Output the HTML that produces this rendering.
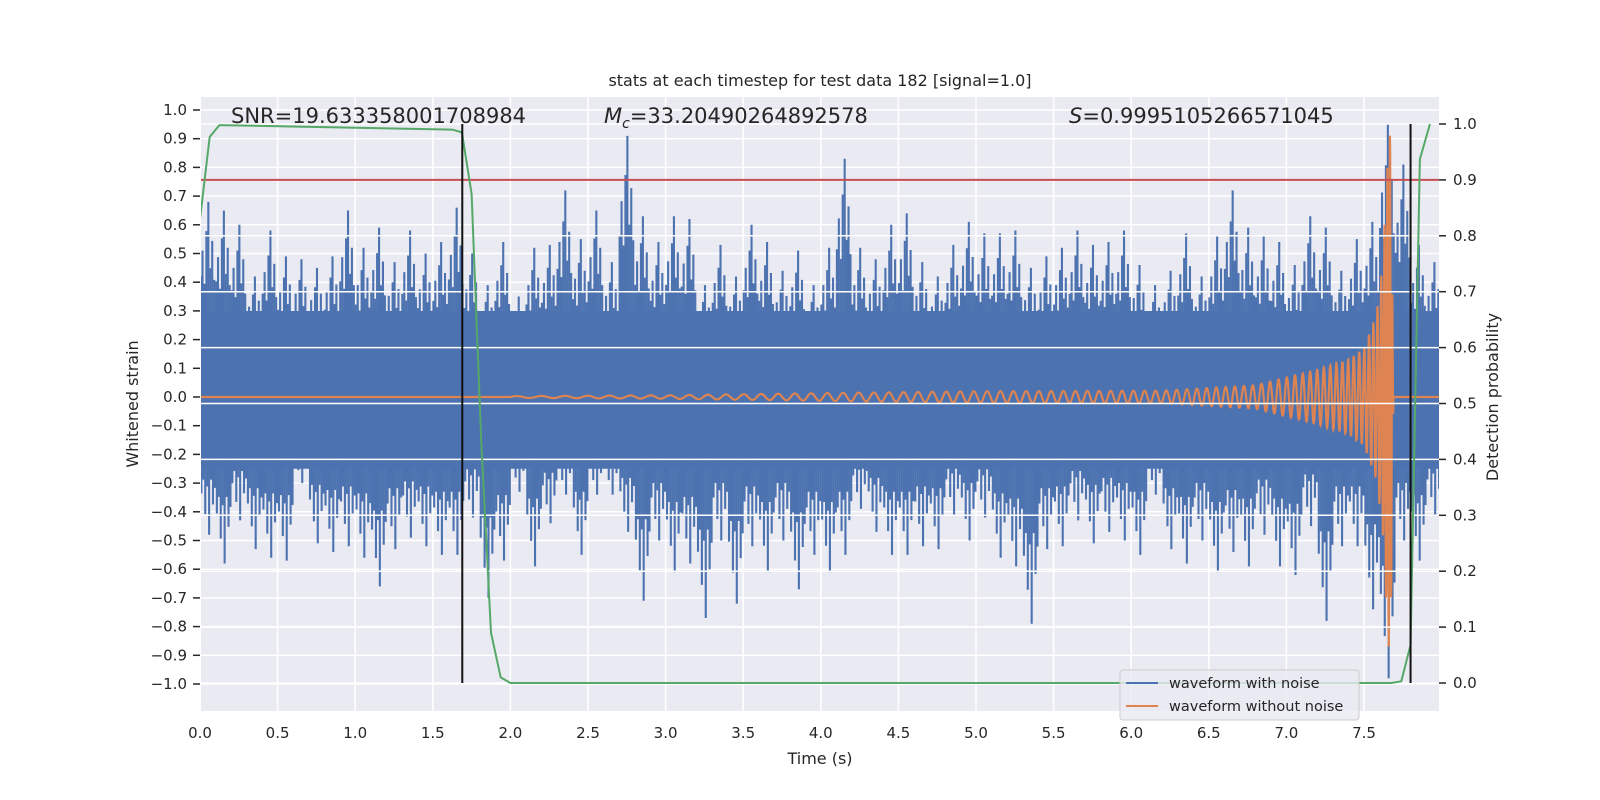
<!DOCTYPE html>
<html><head><meta charset="utf-8">
<style>
html,body{margin:0;padding:0;background:#fff;}
svg{display:block;font-family:"DejaVu Sans","Liberation Sans",sans-serif;}
</style></head>
<body>
<svg id="chart" width="1600" height="800" viewBox="0 0 1600 800" xmlns="http://www.w3.org/2000/svg">
<defs><clipPath id="clipPlot"><rect x="201" y="97" width="1238" height="614"/></clipPath></defs>
<rect x="0" y="0" width="1600" height="800" fill="#ffffff"/>
<rect x="201" y="97" width="1238" height="614" fill="#eaeaf2"/>
<g id="gridL"></g>
<g id="blue" clip-path="url(#clipPlot)"></g>
<g id="orange" clip-path="url(#clipPlot)"></g>
<g id="gridR"></g>
<g id="overlay" clip-path="url(#clipPlot)"></g>
<g id="axes"></g>
<text x="820" y="86" text-anchor="middle" font-size="16" fill="#262626">stats at each timestep for test data 182 [signal=1.0]</text>
<text x="231" y="123" font-size="21" fill="#262626">SNR=19.633358001708984</text>
<text x="604" y="123" font-size="21" fill="#262626"><tspan font-style="italic">M</tspan><tspan font-style="italic" font-size="14" dy="5">c</tspan><tspan dy="-5">=33.20490264892578</tspan></text>
<text x="1069" y="123" font-size="21" fill="#262626"><tspan font-style="italic">S</tspan>=0.9995105266571045</text>
<text x="820" y="764" text-anchor="middle" font-size="16" fill="#262626">Time (s)</text>
<text transform="translate(138,404) rotate(-90)" text-anchor="middle" font-size="16" fill="#262626">Whitened strain</text>
<text transform="translate(1498,397) rotate(-90)" text-anchor="middle" font-size="16" fill="#262626">Detection probability</text>
<g>
<rect x="1120" y="670" width="239" height="50" rx="3" fill="#eaeaf2" fill-opacity="0.8" stroke="#cccccc" stroke-width="1"/>
<line x1="1126" y1="683" x2="1158" y2="683" stroke="#4c72b0" stroke-width="2"/>
<text x="1169" y="688" font-size="14.5" fill="#262626">waveform with noise</text>
<line x1="1126" y1="706" x2="1158" y2="706" stroke="#dd8452" stroke-width="2"/>
<text x="1169" y="711" font-size="14.5" fill="#262626">waveform without noise</text>
</g>
</svg>
<script>
// ---- data ----
const binWidth = 0.1;
const noiseMax = [0.68,0.65,0.6,0.42,0.58,0.49,0.48,0.45,0.49,0.65,0.52,0.59,0.47,0.58,0.5,0.54,0.66,0.5,0.39,0.54,
 0.35,0.52,0.53,0.72,0.55,0.65,0.47,0.91,0.63,0.54,0.63,0.62,0.39,0.53,0.42,0.6,0.54,0.44,0.51,0.39,
 0.52,0.83,0.52,0.48,0.6,0.64,0.47,0.42,0.53,0.61,0.57,0.57,0.58,0.45,0.49,0.52,0.58,0.53,0.54,0.58,
 0.46,0.39,0.44,0.57,0.42,0.56,0.72,0.59,0.56,0.54,0.46,0.63,0.59,0.44,0.55,0.61,0.95,0.81,0.53,0.47];
const noiseMin = [-0.48,-0.58,-0.43,-0.53,-0.56,-0.57,-0.3,-0.51,-0.54,-0.52,-0.56,-0.66,-0.53,-0.49,-0.52,-0.55,-0.55,-0.42,-0.7,-0.57,
 -0.33,-0.59,-0.44,-0.34,-0.55,-0.34,-0.34,-0.47,-0.71,-0.5,-0.61,-0.58,-0.77,-0.5,-0.72,-0.52,-0.61,-0.5,-0.67,-0.55,
 -0.61,-0.55,-0.39,-0.47,-0.55,-0.55,-0.52,-0.53,-0.41,-0.5,-0.42,-0.56,-0.59,-0.79,-0.53,-0.52,-0.43,-0.51,-0.47,-0.5,
 -0.55,-0.34,-0.53,-0.58,-0.5,-0.61,-0.54,-0.59,-0.48,-0.59,-0.62,-0.45,-0.78,-0.52,-0.52,-0.74,-0.98,-0.5,-0.57,-0.41];
const freqT = [2.0,3.0,4.2,5.0,6.1,7.04,7.47,7.6,7.66,7.69];
const freqHz = [6,8,10,11.5,14,19,29,40,60,70];
const ampT = [2.0,3.0,4.2,5.0,6.2,6.8,7.2,7.4,7.5,7.58,7.62,7.65,7.67,7.69];
const ampV = [0.003,0.006,0.015,0.02,0.022,0.041,0.095,0.13,0.17,0.29,0.46,0.8,0.95,0.0];
const probT = [0,0.0625,0.125,1.625,1.6875,1.75,1.8125,1.875,1.9375,2.0,7.675,7.74,7.80,7.86,7.925];
const probV = [0.83,0.977,0.998,0.99,0.985,0.875,0.43,0.09,0.01,0.0,0.0,0.003,0.068,0.937,1.0];
const threshold = 0.9;
const markerTimes = [1.69,7.80];
const xTicks = ["0.0","0.5","1.0","1.5","2.0","2.5","3.0","3.5","4.0","4.5","5.0","5.5","6.0","6.5","7.0","7.5"];
const yTicksL = ["1.0","0.9","0.8","0.7","0.6","0.5","0.4","0.3","0.2","0.1","0.0","\u22120.1","\u22120.2","\u22120.3","\u22120.4","\u22120.5","\u22120.6","\u22120.7","\u22120.8","\u22120.9","\u22121.0"];
const yTicksR = ["1.0","0.9","0.8","0.7","0.6","0.5","0.4","0.3","0.2","0.1","0.0"];

// ---- scales ----
const X = t => 200 + t * 155.2;
const YL = v => 397 - v * 287;
const YR = p => 683 - p * 559;
const NS = "http://www.w3.org/2000/svg";
function mk(tag, attrs, parent){ const e=document.createElementNS(NS,tag); for(const k in attrs) e.setAttribute(k,attrs[k]); parent.appendChild(e); return e; }
const num = s => parseFloat(s.replace("\u2212","-"));
function interp(xs, ys, x){ if(x<=xs[0]) return ys[0]; for(let i=1;i<xs.length;i++){ if(x<=xs[i]){ const f=(x-xs[i-1])/(xs[i]-xs[i-1]); return ys[i-1]+f*(ys[i]-ys[i-1]); } } return ys[ys.length-1]; }

const gridL = document.getElementById('gridL');
const gridR = document.getElementById('gridR');
const axes = document.getElementById('axes');
const blue = document.getElementById('blue');
const orange = document.getElementById('orange');
const overlay = document.getElementById('overlay');

yTicksL.forEach(lbl => {
  const y = YL(num(lbl));
  const g = mk('line',{x1:201,x2:1439,y1:y,y2:y,stroke:'#ffffff','stroke-width':1.5},gridL);
  
  
  const tk = mk('line',{x1:193,x2:200,y1:y,y2:y,stroke:'#262626','stroke-width':1.5},axes);
  
  
  const tx = mk('text',{x:187,y:y+5,'text-anchor':'end','font-size':15,fill:'#262626'},axes);
  tx.textContent = lbl;
  
  
});
xTicks.forEach(lbl => {
  const x = X(num(lbl));
  const g = mk('line',{x1:x,x2:x,y1:97,y2:711,stroke:'#ffffff','stroke-width':1.5},gridL);
  
  
  const tx = mk('text',{x:x,y:738,'text-anchor':'middle','font-size':15,fill:'#262626'},axes);
  tx.textContent = lbl;
  
  
});

// blue noise band
const core = mk('rect',{x:201,y:YL(0.3),width:1238,height:YL(-0.25)-YL(0.3),fill:'#4c72b0'},blue);


const upMult = [0.62,0.75,0.58,0.85,1,0.66,0.8,0.6];
const dnMult = [0.7,0.6,0.85,0.65,1,0.6,0.78,0.66];
noiseMax.forEach((hi,i) => {
  const lo = noiseMin[i];
  const x0 = X(i*binWidth), x1 = X((i+1)*binWidth);
  upMult.forEach((m,j) => {
    const xs = x0 + (x1-x0)*(j+0.3)/upMult.length;
    const up = mk('line',{x1:xs,x2:xs,y1:YL(0),y2:YL(hi*m),stroke:'#4c72b0','stroke-width':2.1},blue);
    
    
    const xd = x0 + (x1-x0)*(j+0.7)/dnMult.length;
    const dn = mk('line',{x1:xd,x2:xd,y1:YL(0),y2:YL(lo*dnMult[j]),stroke:'#4c72b0','stroke-width':2.1},blue);
    
    
  });
});

// orange chirp
let pts = [[X(0),YL(0)],[X(freqT[0]),YL(0)]];
let phase = 0, dt = 0.0015;
const tEnd = ampT[ampT.length-1];
for(let t=freqT[0]; t<=tEnd; t+=dt){
  phase += 2*Math.PI*interp(freqT,freqHz,t)*dt;
  pts.push([X(t), YL(interp(ampT,ampV,t)*Math.sin(phase))]);
}
pts.push([X(tEnd),YL(0)],[X(8),YL(0)]);
const op = mk('polyline',{points:pts.map(p=>p[0].toFixed(2)+','+p[1].toFixed(2)).join(' '),fill:'none',stroke:'#dd8452','stroke-width':2.2},orange);



yTicksR.forEach(lbl => {
  const y = YR(num(lbl));
  const g = mk('line',{x1:201,x2:1439,y1:y,y2:y,stroke:'#ffffff','stroke-width':1.5},gridR);
  
  
  const tk = mk('line',{x1:1439,x2:1446,y1:y,y2:y,stroke:'#262626','stroke-width':1.5},axes);
  
  
  const tx = mk('text',{x:1453,y:y+5,'font-size':15,fill:'#262626'},axes);
  tx.textContent = lbl;
  
  
});

const red = mk('line',{x1:201,x2:1439,y1:YR(threshold),y2:YR(threshold),stroke:'#c44e52','stroke-width':2},overlay);


const gp = mk('polyline',{points:probT.map((t,i)=>X(t).toFixed(2)+','+YR(probV[i]).toFixed(2)).join(' '),fill:'none',stroke:'#55a868','stroke-width':2},overlay);


markerTimes.forEach(t => {
  const l = mk('line',{x1:X(t),x2:X(t),y1:YR(1),y2:YR(0),stroke:'#111111','stroke-width':2},overlay);
  
  
});
</script>
</body></html>
